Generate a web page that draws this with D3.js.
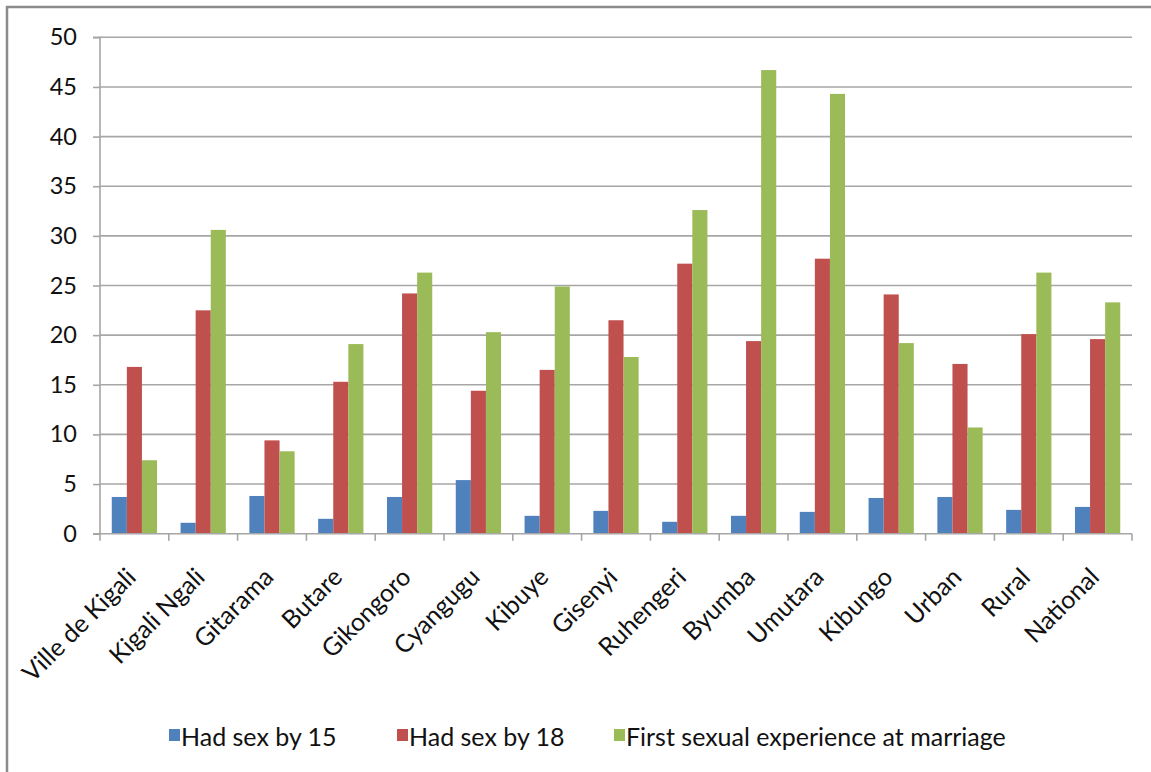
<!DOCTYPE html>
<html><head><meta charset="utf-8">
<script src="https://cdn.jsdelivr.net/npm/d3@7"></script>
<style>
html,body{margin:0;padding:0;background:#fff;}
text{font-family:Lato,"Open Sans",sans-serif;fill:#111;}
</style></head>
<body>
<svg id="chart" width="1151" height="772"></svg>
<script>
const categories = ["Ville de Kigali","Kigali Ngali","Gitarama","Butare","Gikongoro","Cyangugu","Kibuye","Gisenyi","Ruhengeri","Byumba","Umutara","Kibungo","Urban","Rural","National"];
const seriesNames = ["Had sex by 15","Had sex by 18","First sexual experience at marriage"];
const by15 = [3.7,1.1,3.8,1.5,3.7,5.4,1.8,2.3,1.2,1.8,2.2,3.6,3.7,2.4,2.7];
const by18 = [16.8,22.5,9.4,15.3,24.2,14.4,16.5,21.5,27.2,19.4,27.7,24.1,17.1,20.1,19.6];
const atMarriage = [7.4,30.6,8.3,19.1,26.3,20.3,24.9,17.8,32.6,46.7,44.3,19.2,10.7,26.3,23.3];
const yTicks = [0,5,10,15,20,25,30,35,40,45,50];
const colors = ["#4F81BD","#C0504D","#9BBB59"];

const seriesValues = [by15, by18, atMarriage];
const svg = d3.select("#chart");
const L = 100, R = 1132, T = 37.3, B = 533.7;
const fsTick = 23.5, fsLab = 25;

// outer frame
svg.append("path").attr("d","M7,772 L7,7 L1151,7").attr("fill","none").attr("stroke","#8c8c8c").attr("stroke-width",2.5);

const x0 = d3.scaleBand().domain(categories).range([L,R]).padding(0);
const x1 = d3.scaleBand().domain(d3.range(seriesNames.length)).range([0,x0.bandwidth()]).paddingInner(0).paddingOuter(0.78);
const y = d3.scaleLinear().domain([0,50]).range([B,T]);

// gridlines
svg.append("g").selectAll("line").data(yTicks.filter(t=>t>0)).join("line")
  .attr("x1",L).attr("x2",R).attr("y1",d=>y(d)).attr("y2",d=>y(d))
  .attr("stroke","#a6a6a6").attr("stroke-width",1.6);

// bars
const groups = svg.append("g").selectAll("g").data(categories).join("g")
  .attr("transform",c=>`translate(${x0(c)},0)`);
groups.selectAll("rect").data((c,i)=>seriesValues.map((s,k)=>({k, v:s[i]}))).join("rect")
  .attr("x",d=>x1(d.k)).attr("width",x1.bandwidth())
  .attr("y",d=>y(d.v)).attr("height",d=>y(0)-y(d.v))
  .attr("fill",d=>colors[d.k]);

// y axis
const yAxis = d3.axisLeft(y).tickValues(yTicks).tickSize(7).tickPadding(16).tickFormat(d3.format("d"));
const gy = svg.append("g").attr("transform",`translate(${L},0)`).call(yAxis);
gy.select(".domain").attr("stroke","#a6a6a6").attr("stroke-width",1.6).attr("d",`M-7,${T}H0V${B}H-7`);
gy.selectAll(".tick line").attr("stroke","#a6a6a6").attr("stroke-width",1.6);
gy.selectAll(".tick text").attr("font-size",fsTick).attr("font-family","Lato").attr("fill","#111");

// x axis
const boundaries = categories.map(c=>x0(c)).concat([R]);
const gx = svg.append("g");
gx.append("line").attr("x1",L).attr("x2",R).attr("y1",B).attr("y2",B).attr("stroke","#a6a6a6").attr("stroke-width",1.6);
gx.selectAll("line.tk").data(boundaries).join("line").attr("class","tk")
  .attr("x1",d=>d).attr("x2",d=>d).attr("y1",B).attr("y2",B+7).attr("stroke","#a6a6a6").attr("stroke-width",1.6);
gx.selectAll("text").data(categories).join("text")
  .attr("transform",c=>`translate(${x0(c)+x0.bandwidth()/2+3},${B+45}) rotate(-45)`)
  .attr("text-anchor","end").attr("font-size",fsLab).text(c=>c);

// legend
const legX = [169, 397, 614];
const lg = svg.append("g").selectAll("g").data(seriesNames).join("g")
  .attr("transform",(d,i)=>`translate(${legX[i]},729)`);
lg.append("rect").attr("width",11).attr("height",12).attr("fill",(d,i)=>colors[i]);
lg.append("text").attr("x",12).attr("y",16.5).attr("font-size",fsLab).text(d=>d);
</script>
</body></html>
